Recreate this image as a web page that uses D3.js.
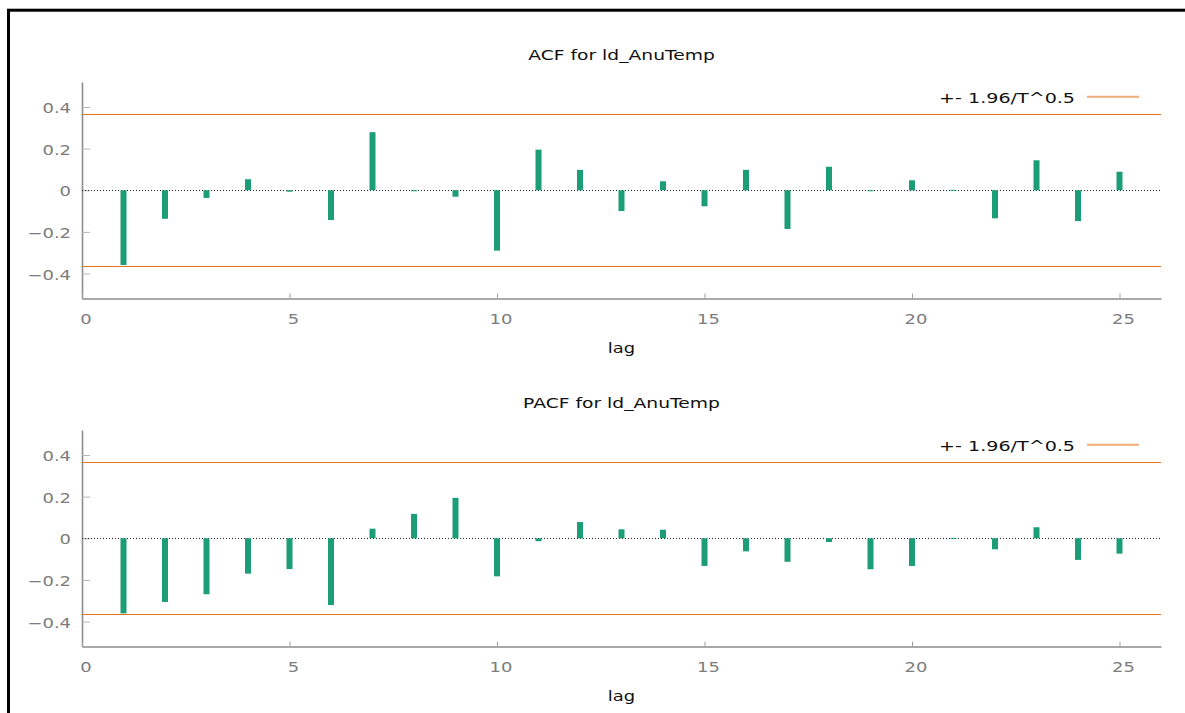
<!DOCTYPE html>
<html>
<head>
<meta charset="utf-8">
<script src="https://cdn.jsdelivr.net/npm/d3@7"></script>
<style>
  html, body { margin: 0; padding: 0; background: #fff; }
  svg { display: block; }
  text { font-family: "DejaVu Sans", Verdana, sans-serif; }
</style>
</head>
<body>
<svg id="chart" width="1185" height="713"></svg>
<script>
// Data
const lags = d3.range(1, 26);
const acfValues = [
  -0.359, -0.137, -0.037, 0.053, -0.007, -0.143, 0.279, -0.003, -0.031, -0.290,
  0.195, 0.098, -0.100, 0.043, -0.077, 0.098, -0.186, 0.113, -0.004, 0.048,
  0.002, -0.135, 0.144, -0.148, 0.089
];
const pacfValues = [
  -0.361, -0.306, -0.269, -0.170, -0.148, -0.321, 0.046, 0.117, 0.194, -0.183,
  -0.014, 0.078, 0.043, 0.041, -0.133, -0.063, -0.113, -0.018, -0.149, -0.133,
  0.002, -0.053, 0.053, -0.104, -0.074
];
const band = 0.364;               // +- 1.96/T^0.5
const xTicks = [0, 5, 10, 15, 20, 25];
const yTicks = [-0.4, -0.2, 0, 0.2, 0.4];
const panelTitles = ['ACF for ld_AnuTemp', 'PACF for ld_AnuTemp'];
const legendLabel = '+- 1.96/T^0.5';

// Layout
const SX = 1.3;                   // the original is stretched horizontally
const left = 82, right = 1161;
const panelTop = 82, panelBottom = 298.5, panelStep = 348;

const svg = d3.select('#chart');

// outer frame (cut off at right and bottom)
svg.append('rect')
  .attr('x', 8.5).attr('y', 10.2)
  .attr('width', 1400).attr('height', 900)
  .attr('fill', 'none').attr('stroke', '#000').attr('stroke-width', 3);

const x = d3.scaleLinear().domain([0, 26]).range([left, right]);

function stretchedText(g, tx, ty, str, size, anchor, color) {
  return g.append('text')
    .attr('transform', `translate(${tx},${ty}) scale(${SX},1)`)
    .attr('text-anchor', anchor)
    .attr('font-size', size)
    .attr('fill', color)
    .text(str);
}

function drawPanel(i, values) {
  const off = i * panelStep;
  const y = d3.scaleLinear().domain([-0.52, 0.52]).range([panelBottom + off, panelTop + off]);
  const g = svg.append('g');

  // title
  stretchedText(g, (left + right) / 2, 59.5 + off, panelTitles[i], 14.4, 'middle', '#111');

  // y axis
  const yAxis = g.append('g')
    .attr('transform', `translate(${left},0)`)
    .call(d3.axisLeft(y).tickValues(yTicks).tickSizeInner(-8).tickSizeOuter(0).tickPadding(11)
      .tickFormat(d => d === 0 ? '0' : d3.format('.1f')(d)));
  yAxis.select('.domain').attr('stroke', '#8c8c8c').attr('stroke-width', 1.6);
  yAxis.selectAll('.tick line').attr('stroke', '#b4b4b4').attr('stroke-width', 1);
  yAxis.selectAll('.tick text')
    .attr('x', null).attr('dy', null)
    .attr('transform', `translate(-11,5.6) scale(${SX},1)`)
    .attr('font-family', null)
    .attr('font-size', 13.8).attr('fill', '#7c7c7c');

  // x axis
  const xAxis = g.append('g')
    .attr('transform', `translate(0,${panelBottom + off})`)
    .call(d3.axisBottom(x).tickValues(xTicks).tickSizeInner(-5).tickSizeOuter(0).tickPadding(0)
      .tickFormat(d3.format('d')));
  xAxis.select('.domain').attr('stroke', '#8c8c8c').attr('stroke-width', 1.6);
  xAxis.selectAll('.tick line').attr('stroke', '#a0a0a0').attr('stroke-width', 1);
  xAxis.selectAll('.tick text')
    .attr('y', null).attr('dy', null)
    .attr('transform', `translate(3.5,25.5) scale(${SX},1)`)
    .attr('font-family', null)
    .attr('font-size', 13.8).attr('fill', '#7c7c7c');

  // x label
  stretchedText(g, (left + right) / 2, 353 + off, 'lag', 13.8, 'middle', '#111');

  // confidence band lines
  g.selectAll('line.band')
    .data([band, -band])
    .join('line')
    .attr('class', 'band')
    .attr('x1', left).attr('x2', right)
    .attr('y1', d => Math.round(y(d)) + 0.5).attr('y2', d => Math.round(y(d)) + 0.5)
    .attr('stroke', '#e2741c').attr('stroke-width', 1.2);

  // zero line
  g.append('line')
    .attr('x1', left).attr('x2', right)
    .attr('y1', Math.round(y(0)) + 0.5).attr('y2', Math.round(y(0)) + 0.5)
    .attr('stroke', '#222').attr('stroke-width', 1)
    .attr('stroke-dasharray', '1,2');

  // impulses
  g.selectAll('rect.bar')
    .data(values.map((v, k) => ({ lag: lags[k], v })))
    .join('rect')
    .attr('class', 'bar')
    .attr('x', d => x(d.lag) - 3)
    .attr('width', 6)
    .attr('y', d => y(Math.max(d.v, 0)))
    .attr('height', d => Math.max(1, Math.abs(y(d.v) - y(0))))
    .attr('fill', '#1b9e77');

  // legend
  stretchedText(g, 1075, 102.7 + off, legendLabel, 14.7, 'end', '#111');
  g.append('line')
    .attr('x1', 1087).attr('x2', 1139)
    .attr('y1', 96.7 + off).attr('y2', 96.7 + off)
    .attr('stroke', '#e2741c').attr('stroke-opacity', 0.6).attr('stroke-width', 2);
}

drawPanel(0, acfValues);
drawPanel(1, pacfValues);
</script>
</body>
</html>
